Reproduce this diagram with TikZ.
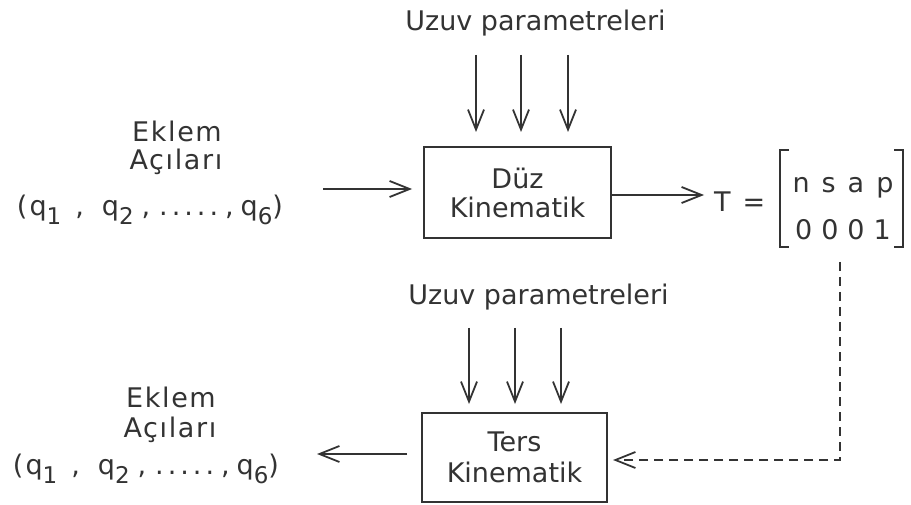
\documentclass[tikz,border=0pt]{standalone}
\usepackage{fontspec}
\setmainfont{DejaVu Sans}
\usetikzlibrary{arrows.meta}
\definecolor{ink}{HTML}{333333}
\newcommand\qsub[1]{\raisebox{-9pt}{\fontsize{23}{23}\selectfont #1}}
\newcommand\qrow{(\hspace{2pt}q\qsub{1}\hspace{14pt},\hspace{18pt}q\qsub{2}\hspace{8pt},\hspace{9pt}.\hspace{4pt}.\hspace{4pt}.\hspace{4pt}.\hspace{4pt}.\hspace{7pt},\hspace{7pt}q\qsub{6})}
\tikzset{
  lbl/.style={inner sep=0pt, text=ink, font=\fontsize{27}{28}\selectfont, anchor=base},
  wide/.style={font=\fontsize{27}{28}\selectfont\addfontfeature{LetterSpace=6}},
  blk/.style={draw=ink, line width=2pt, inner sep=0pt, text=ink,
    font=\fontsize{27}{29}\selectfont, align=center},
  arr/.style={draw=ink, line width=1.8pt, -{Straight Barb[length=20pt,width=16pt,line width=1.8pt]}},
  dsh/.style={arr, dash pattern=on 9pt off 6pt},
  brk/.style={draw=ink, line width=2pt}
}
\begin{document}
\begin{tikzpicture}[x=1pt,y=-1pt]
\useasboundingbox[fill=white] (0,0) rectangle (911,505);
% top block
\node[lbl] (par1) at (535.5,31) {Uzuv parametreleri};
\node[blk, minimum width=187pt, minimum height=91pt] (dk) at (517.5,192.5) {Düz\\Kinematik};
\foreach \i/\x in {1/476,2/521,3/568}{
  \coordinate (p1\i) at (\x,55);
  \draw[arr, shorten >=14pt] (p1\i) -- (p1\i |- dk.north);
}
\node[lbl, wide] (ek1a) at (177,142) {Eklem};
\node[lbl, wide] (ek1b) at (176,170) {Açıları};
\node[lbl] (q1) at (150,216) {\qrow};
\coordinate (in1) at (323,189);
\draw[arr, shorten >=11pt] (in1) -- (in1 -| dk.west);
\node[lbl, anchor=base west] (T) at (714,212) {T\hspace{12pt}=};
\coordinate (mtl) at (780,150);
\coordinate (mbr) at (903,247);
\node[lbl] (r1) at (843,193) {n\hspace{12pt}s\hspace{12pt}a\hspace{12pt}p};
\node[lbl] (r2) at (843,240) {0\hspace{9pt}0\hspace{9pt}0\hspace{9pt}1};
\draw[brk] ([xshift=9pt]mtl) -- (mtl) -- (mtl |- mbr) -- ([xshift=9pt]mtl |- mbr);
\draw[brk] ([xshift=-9pt]mtl -| mbr) -- (mtl -| mbr) -- (mbr) -- ([xshift=-9pt]mbr);
\draw[arr, shorten >=10pt] (dk.east |- 0,195) -- (T.west |- 0,195);
% bottom block
\node[lbl] (par2) at (538.5,305) {Uzuv parametreleri};
\node[blk, minimum width=185pt, minimum height=89pt, font=\fontsize{27}{31}\selectfont] (tk) at (514.5,457.5) {Ters\\Kinematik};
\foreach \i/\x in {1/469,2/515,3/561}{
  \coordinate (p2\i) at (\x,328);
  \draw[arr, shorten >=8pt] (p2\i) -- (p2\i |- tk.north);
}
\node[lbl, wide] (ek2a) at (171,407) {Eklem};
\node[lbl, wide] (ek2b) at (170,437) {Açıları};
\node[lbl] (q2) at (146,474) {\qrow};
\coordinate (out2) at (317,454);
\draw[arr, shorten <=14pt] (tk.west |- out2) -- (out2);
\coordinate (dtop) at (840,262);
\draw[dsh, shorten >=5pt] (dtop) |- (tk.east |- 0,460);
\end{tikzpicture}
\end{document}
